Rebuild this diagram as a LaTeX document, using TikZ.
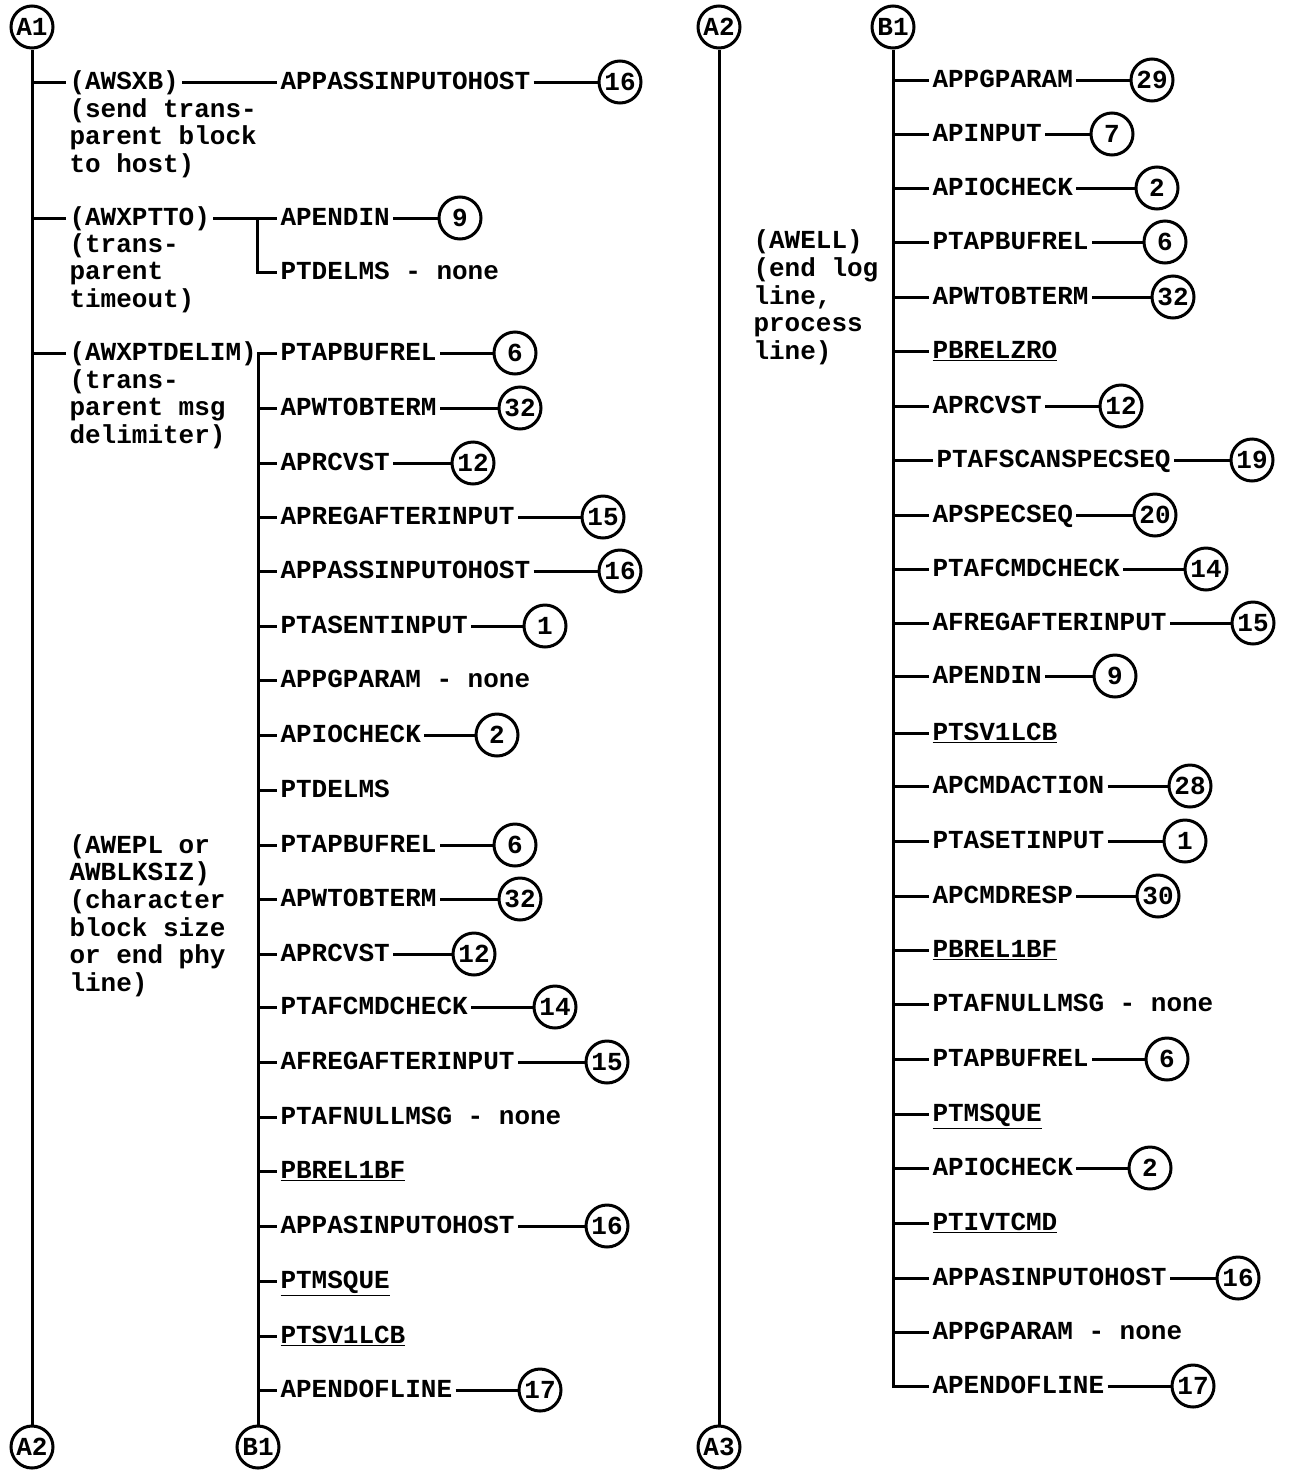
\documentclass[tikz,border=0pt]{standalone}
\usepackage{fontspec}
\newfontfamily\memofont{Liberation Mono}
\newcommand\memotext{\memofont\bfseries\fontsize{26}{27.7}\selectfont}
\usepackage{tikz}

\begin{document}
\begin{tikzpicture}[x=1pt, y=-1pt, line width=3pt,
  conn/.style={circle, draw, minimum size=42pt, inner sep=0pt, font=\memotext},
  num/.style={conn},
  lbl/.style={anchor=west, inner xsep=2pt, inner ysep=0pt, text height=15pt, text depth=0pt, font=\memotext},
  note/.style={anchor=base west, inner sep=0pt, align=left, font=\memotext}]
  \useasboundingbox (0,0) rectangle (1295,1470);

  \node[conn] (a1) at (32,27) {A1};
  \node[conn] (a2b) at (32,1447) {A2};
  \node[conn] (b1b) at (258,1447) {B1};
  \draw (a1) -- (a2b);

  \node[lbl] (awsxb) at (66,82) {(AWSXB)};
  \node[note] (awsxbn) at (68,172.5) {(send trans-\\parent block\\to host)};
  \node[lbl] (l0a) at (277,82) {APPASSINPUTOHOST};
  \node[num] (n0a) at (620,82) {16};
  \draw (a1 |- awsxb.west) -- (awsxb.west);
  \draw (awsxb) -- (l0a);
  \draw (l0a) -- (n0a);

  \node[lbl] (awxptto) at (66,218) {(AWXPTTO)};
  \node[note] (awxpttonote) at (68,307.5) {(trans-\\parent\\timeout)};
  \node[lbl] (apendin) at (277,218) {APENDIN};
  \node[num] (n0b) at (460,218) {9};
  \node[lbl] (ptdelms) at (277,272) {PTDELMS - none};
  \coordinate (brk) at (257,218);
  \draw (a1 |- awxptto.west) -- (awxptto.west);
  \draw (awxptto) -- (apendin);
  \draw (apendin) -- (n0b);
  \draw (brk) |- (ptdelms.west);

  \node[lbl] (awxptdelim) at (66,353) {(AWXPTDELIM)};
  \node[note] (awxptdelimnote) at (68,443.5) {(trans-\\parent msg\\delimiter)};
  \node[note] (awepl) at (68,991.5) {(AWEPL or\\AWBLKSIZ)\\(character\\block size\\or end phy\\line)};
  \draw (a1 |- awxptdelim.west) -- (awxptdelim.west);

  \node[lbl] (l1) at (277,353) {PTAPBUFREL};
  \node[num] (n1) at (515,353) {6};
  \node[lbl] (l2) at (277,408) {APWTOBTERM};
  \node[num] (n2) at (520,408) {32};
  \node[lbl] (l3) at (277,463) {APRCVST};
  \node[num] (n3) at (473,463) {12};
  \node[lbl] (l4) at (277,517) {APREGAFTERINPUT};
  \node[num] (n4) at (603,517) {15};
  \node[lbl] (l5) at (277,571) {APPASSINPUTOHOST};
  \node[num] (n5) at (620,571) {16};
  \node[lbl] (l6) at (277,626) {PTASENTINPUT};
  \node[num] (n6) at (545,626) {1};
  \node[lbl] (l7) at (277,680) {APPGPARAM - none};
  \node[lbl] (l8) at (277,735) {APIOCHECK};
  \node[num] (n8) at (497,735) {2};
  \node[lbl] (l9) at (277,790) {PTDELMS};
  \node[lbl] (l10) at (277,845) {PTAPBUFREL};
  \node[num] (n10) at (515,845) {6};
  \node[lbl] (l11) at (277,899) {APWTOBTERM};
  \node[num] (n11) at (520,899) {32};
  \node[lbl] (l12) at (277,954) {APRCVST};
  \node[num] (n12) at (474,954) {12};
  \node[lbl] (l13) at (277,1007) {PTAFCMDCHECK};
  \node[num] (n13) at (555,1007) {14};
  \node[lbl] (l14) at (277,1062) {AFREGAFTERINPUT};
  \node[num] (n14) at (607,1062) {15};
  \node[lbl] (l15) at (277,1117) {PTAFNULLMSG - none};
  \node[lbl] (l16) at (277,1171) {\underline{PBREL1BF}};
  \node[lbl] (l17) at (277,1226) {APPASINPUTOHOST};
  \node[num] (n17) at (607,1226) {16};
  \node[lbl] (l18) at (277,1281) {\underline{PTMSQUE}};
  \node[lbl] (l19) at (277,1336) {\underline{PTSV1LCB}};
  \node[lbl] (l20) at (277,1390) {APENDOFLINE};
  \node[num] (n20) at (540,1390) {17};

  \draw (l1.west) -| (b1b);
  \draw (l1) -- (n1);
  \draw (b1b |- l2.west) -- (l2.west);
  \draw (l2) -- (n2);
  \draw (b1b |- l3.west) -- (l3.west);
  \draw (l3) -- (n3);
  \draw (b1b |- l4.west) -- (l4.west);
  \draw (l4) -- (n4);
  \draw (b1b |- l5.west) -- (l5.west);
  \draw (l5) -- (n5);
  \draw (b1b |- l6.west) -- (l6.west);
  \draw (l6) -- (n6);
  \draw (b1b |- l7.west) -- (l7.west);
  \draw (b1b |- l8.west) -- (l8.west);
  \draw (l8) -- (n8);
  \draw (b1b |- l9.west) -- (l9.west);
  \draw (b1b |- l10.west) -- (l10.west);
  \draw (l10) -- (n10);
  \draw (b1b |- l11.west) -- (l11.west);
  \draw (l11) -- (n11);
  \draw (b1b |- l12.west) -- (l12.west);
  \draw (l12) -- (n12);
  \draw (b1b |- l13.west) -- (l13.west);
  \draw (l13) -- (n13);
  \draw (b1b |- l14.west) -- (l14.west);
  \draw (l14) -- (n14);
  \draw (b1b |- l15.west) -- (l15.west);
  \draw (b1b |- l16.west) -- (l16.west);
  \draw (b1b |- l17.west) -- (l17.west);
  \draw (l17) -- (n17);
  \draw (b1b |- l18.west) -- (l18.west);
  \draw (b1b |- l19.west) -- (l19.west);
  \draw (b1b |- l20.west) -- (l20.west);
  \draw (l20) -- (n20);

  \node[conn] (a2t) at (719,27) {A2};
  \node[conn] (a3) at (719,1447) {A3};
  \node[conn] (b1t) at (893,27) {B1};
  \draw (a2t) -- (a3);
  \node[note] (awell) at (752,359.5) {(AWELL)\\(end log\\line,\\process\\line)};

  \node[lbl] (r1) at (929,80) {APPGPARAM};
  \node[num] (m1) at (1152,80) {29};
  \node[lbl] (r2) at (929,134) {APINPUT};
  \node[num] (m2) at (1112,134) {7};
  \node[lbl] (r3) at (929,188) {APIOCHECK};
  \node[num] (m3) at (1157,188) {2};
  \node[lbl] (r4) at (929,242) {PTAPBUFREL};
  \node[num] (m4) at (1165,242) {6};
  \node[lbl] (r5) at (929,297) {APWTOBTERM};
  \node[num] (m5) at (1173,297) {32};
  \node[lbl] (r6) at (929,351) {\underline{PBRELZRO}};
  \node[lbl] (r7) at (929,406) {APRCVST};
  \node[num] (m7) at (1121,406) {12};
  \node[lbl] (r8) at (933,460) {PTAFSCANSPECSEQ};
  \node[num] (m8) at (1252,460) {19};
  \node[lbl] (r9) at (929,515) {APSPECSEQ};
  \node[num] (m9) at (1155,515) {20};
  \node[lbl] (r10) at (929,569) {PTAFCMDCHECK};
  \node[num] (m10) at (1206,569) {14};
  \node[lbl] (r11) at (929,623) {AFREGAFTERINPUT};
  \node[num] (m11) at (1253,623) {15};
  \node[lbl] (r12) at (929,676) {APENDIN};
  \node[num] (m12) at (1115,676) {9};
  \node[lbl] (r13) at (929,733) {\underline{PTSV1LCB}};
  \node[lbl] (r14) at (929,786) {APCMDACTION};
  \node[num] (m14) at (1190,786) {28};
  \node[lbl] (r15) at (929,841) {PTASETINPUT};
  \node[num] (m15) at (1185,841) {1};
  \node[lbl] (r16) at (929,896) {APCMDRESP};
  \node[num] (m16) at (1158,896) {30};
  \node[lbl] (r17) at (929,950) {\underline{PBREL1BF}};
  \node[lbl] (r18) at (929,1004) {PTAFNULLMSG - none};
  \node[lbl] (r19) at (929,1059) {PTAPBUFREL};
  \node[num] (m19) at (1167,1059) {6};
  \node[lbl] (r20) at (929,1114) {\underline{PTMSQUE}};
  \node[lbl] (r21) at (929,1168) {APIOCHECK};
  \node[num] (m21) at (1150,1168) {2};
  \node[lbl] (r22) at (929,1223) {\underline{PTIVTCMD}};
  \node[lbl] (r23) at (929,1278) {APPASINPUTOHOST};
  \node[num] (m23) at (1238,1278) {16};
  \node[lbl] (r24) at (929,1332) {APPGPARAM - none};
  \node[lbl] (r25) at (929,1386) {APENDOFLINE};
  \node[num] (m25) at (1193,1386) {17};

  \draw (b1t) |- (r25.west);
  \draw (r25) -- (m25);
  \draw (b1t |- r1.west) -- (r1.west);
  \draw (r1) -- (m1);
  \draw (b1t |- r2.west) -- (r2.west);
  \draw (r2) -- (m2);
  \draw (b1t |- r3.west) -- (r3.west);
  \draw (r3) -- (m3);
  \draw (b1t |- r4.west) -- (r4.west);
  \draw (r4) -- (m4);
  \draw (b1t |- r5.west) -- (r5.west);
  \draw (r5) -- (m5);
  \draw (b1t |- r6.west) -- (r6.west);
  \draw (b1t |- r7.west) -- (r7.west);
  \draw (r7) -- (m7);
  \draw (b1t |- r8.west) -- (r8.west);
  \draw (r8) -- (m8);
  \draw (b1t |- r9.west) -- (r9.west);
  \draw (r9) -- (m9);
  \draw (b1t |- r10.west) -- (r10.west);
  \draw (r10) -- (m10);
  \draw (b1t |- r11.west) -- (r11.west);
  \draw (r11) -- (m11);
  \draw (b1t |- r12.west) -- (r12.west);
  \draw (r12) -- (m12);
  \draw (b1t |- r13.west) -- (r13.west);
  \draw (b1t |- r14.west) -- (r14.west);
  \draw (r14) -- (m14);
  \draw (b1t |- r15.west) -- (r15.west);
  \draw (r15) -- (m15);
  \draw (b1t |- r16.west) -- (r16.west);
  \draw (r16) -- (m16);
  \draw (b1t |- r17.west) -- (r17.west);
  \draw (b1t |- r18.west) -- (r18.west);
  \draw (b1t |- r19.west) -- (r19.west);
  \draw (r19) -- (m19);
  \draw (b1t |- r20.west) -- (r20.west);
  \draw (b1t |- r21.west) -- (r21.west);
  \draw (r21) -- (m21);
  \draw (b1t |- r22.west) -- (r22.west);
  \draw (b1t |- r23.west) -- (r23.west);
  \draw (r23) -- (m23);
  \draw (b1t |- r24.west) -- (r24.west);
\end{tikzpicture}
\end{document}
